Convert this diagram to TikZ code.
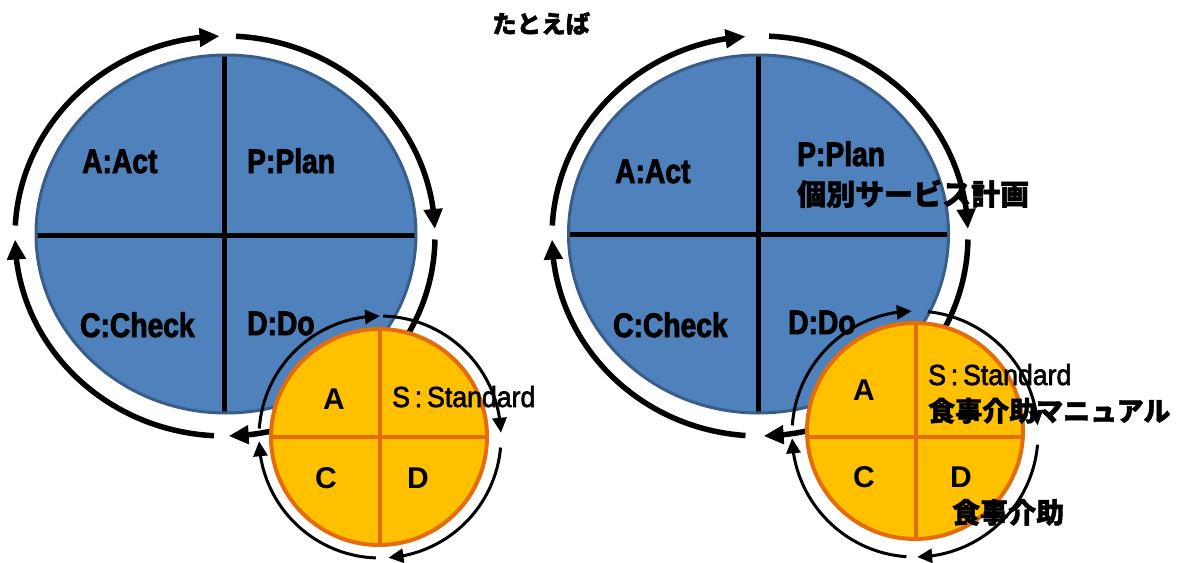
\documentclass[tikz,border=0pt]{standalone}
\usepackage{fontspec}
\setmainfont{Liberation Sans}
\newfontfamily\latc[FakeStretch=0.83,FakeBold=2.5]{Liberation Sans}
\newfontfamily\latn[FakeStretch=0.92,FakeBold=2]{Liberation Sans}
\newfontfamily\jpf[FakeBold=1.5]{Noto Sans CJK JP}
\usetikzlibrary{arrows.meta,bending}
\definecolor{bluefill}{HTML}{4F81BD}
\definecolor{blueedge}{HTML}{385D8A}
\definecolor{orfill}{HTML}{FFC000}
\definecolor{oredge}{HTML}{E46C0A}
\newcommand{\myarc}[7]{%
  \draw[#1] ([shift={(#2,#3)}]#6:#4pt and #5pt) arc[start angle=#6, end angle=#7, x radius=#4pt, y radius=#5pt];}
\tikzset{
  bigarc/.style={line width=5.5pt, -{Triangle[length=20pt,width=18pt,flex]}},
  smallarc/.style={line width=3pt, -{Triangle[length=15pt,width=14pt,flex]}},
  bigtxt/.style={font=\latc\bfseries\fontsize{34}{34}\selectfont, anchor=base west, inner sep=0pt},
  lettxt/.style={font=\bfseries\fontsize{30}{30}\selectfont, anchor=base west, inner sep=0pt},
  stdtxt/.style={font=\latn\fontsize{29}{29}\selectfont, anchor=base west, inner sep=0pt},
  jptxt/.style={font=\jpf\bfseries\fontsize{28}{28}\selectfont, anchor=base west, inner sep=0pt},
  blackdiv/.style={line width=5pt, black},
  ordiv/.style={line width=4pt, oredge}
}
\begin{document}
\begin{tikzpicture}[x=1pt,y=1pt]
\useasboundingbox (0,0) rectangle (1177,-562);

% ===== title =====
\node[jptxt, font=\jpf\bfseries\fontsize{24.5}{24.5}\selectfont] (title) at (492,-33) {たとえば};

% ===== LEFT DIAGRAM =====
% big ring
\myarc{bigarc}{225}{-236}{210}{200}{177}{91.5}
\myarc{bigarc}{225}{-236}{210}{200}{87}{2}
\myarc{bigarc}{225}{-236}{210}{200}{-1}{-89}
\myarc{bigarc}{225}{-236}{210}{200}{267}{181}
% blue disc
\fill[bluefill] (226,-234) ellipse [x radius=190pt, y radius=179pt];
\begin{scope}
  \clip (226,-234) ellipse [x radius=190pt, y radius=179pt];
  \draw[blackdiv] (224,-40) -- (224,-430);
  \draw[blackdiv] (20,-235) -- (430,-235);
\end{scope}
\draw[blueedge, line width=3pt] (226,-234) ellipse [x radius=190pt, y radius=179pt];
\node[bigtxt] (la) at (82,-173) {A:Act};
\node[bigtxt] (lp) at (247,-173) {P:Plan};
\node[bigtxt] (lc) at (80,-337) {C:Check};
\node[bigtxt] (ld) at (247,-335) {D:Do};
% small ring
\myarc{smallarc}{380}{-437}{121}{121}{176}{90}
\myarc{smallarc}{380}{-437}{121}{121}{88.5}{2}
\myarc{smallarc}{380}{-437}{121}{121}{-5}{-86}
\myarc{smallarc}{380}{-437}{121}{121}{268}{182}
% orange disc
\fill[orfill] (379,-437) circle (108pt);
\begin{scope}
  \clip (379,-437) circle (108pt);
  \draw[ordiv] (380,-320) -- (380,-560);
  \draw[ordiv] (260,-437) -- (500,-437);
\end{scope}
\draw[oredge, line width=4pt] (379,-437) circle (108pt);
\node[lettxt] (lsa) at (323,-409) {A};
\node[lettxt] (lsc) at (315,-488) {C};
\node[lettxt] (lsd) at (407,-488) {D};
\node[stdtxt] (lss) at (392,-407) {S\,:\,Standard};

% ===== RIGHT DIAGRAM =====
\myarc{bigarc}{760}{-236}{208}{200}{177}{94}
\myarc{bigarc}{760}{-236}{208}{200}{87.5}{2}
\myarc{bigarc}{760}{-236}{208}{200}{-1}{-89}
\myarc{bigarc}{760}{-236}{208}{200}{266}{181}
\fill[bluefill] (758.5,-234) ellipse [x radius=190pt, y radius=179pt];
\begin{scope}
  \clip (758.5,-234) ellipse [x radius=190pt, y radius=179pt];
  \draw[blackdiv] (758,-40) -- (758,-430);
  \draw[blackdiv] (550,-234) -- (970,-234);
\end{scope}
\draw[blueedge, line width=3pt] (758.5,-234) ellipse [x radius=190pt, y radius=179pt];
\node[bigtxt] (ra) at (615,-183) {A:Act};
\node[bigtxt] (rp) at (797,-166) {P:Plan};
\node[bigtxt] (rc) at (613,-337) {C:Check};
\node[bigtxt] (rd) at (788,-334) {D:Do};
% small ring
\myarc{smallarc}{915}{-434}{123}{123}{176}{91.5}
\myarc{smallarc}{915}{-434}{123}{123}{84}{4}
\myarc{smallarc}{915}{-434}{123}{123}{-5}{-89}
\myarc{smallarc}{915}{-434}{123}{123}{266}{182}
\fill[orfill] (915,-431) circle (108pt);
\begin{scope}
  \clip (915,-431) circle (108pt);
  \draw[ordiv] (916,-310) -- (916,-560);
  \draw[ordiv] (790,-437) -- (1040,-437);
\end{scope}
\draw[oredge, line width=4pt] (915,-431) circle (108pt);
\node[lettxt] (rsa) at (853,-400) {A};
\node[lettxt] (rsc) at (853,-487) {C};
\node[lettxt] (rsd) at (950,-487) {D};
\node[stdtxt] (rss) at (928,-385) {S\,:\,Standard};

% Japanese labels
\node[jptxt, font=\jpf\bfseries\fontsize{29}{29}\selectfont] (rpj) at (797,-205) {個別サービス計画};
\node[jptxt, font=\jpf\bfseries\fontsize{27}{27}\selectfont] (rsj) at (928,-421) {食事介助マニュアル};
\node[jptxt] (rdj) at (952,-523) {食事介助};
\end{tikzpicture}
\end{document}
